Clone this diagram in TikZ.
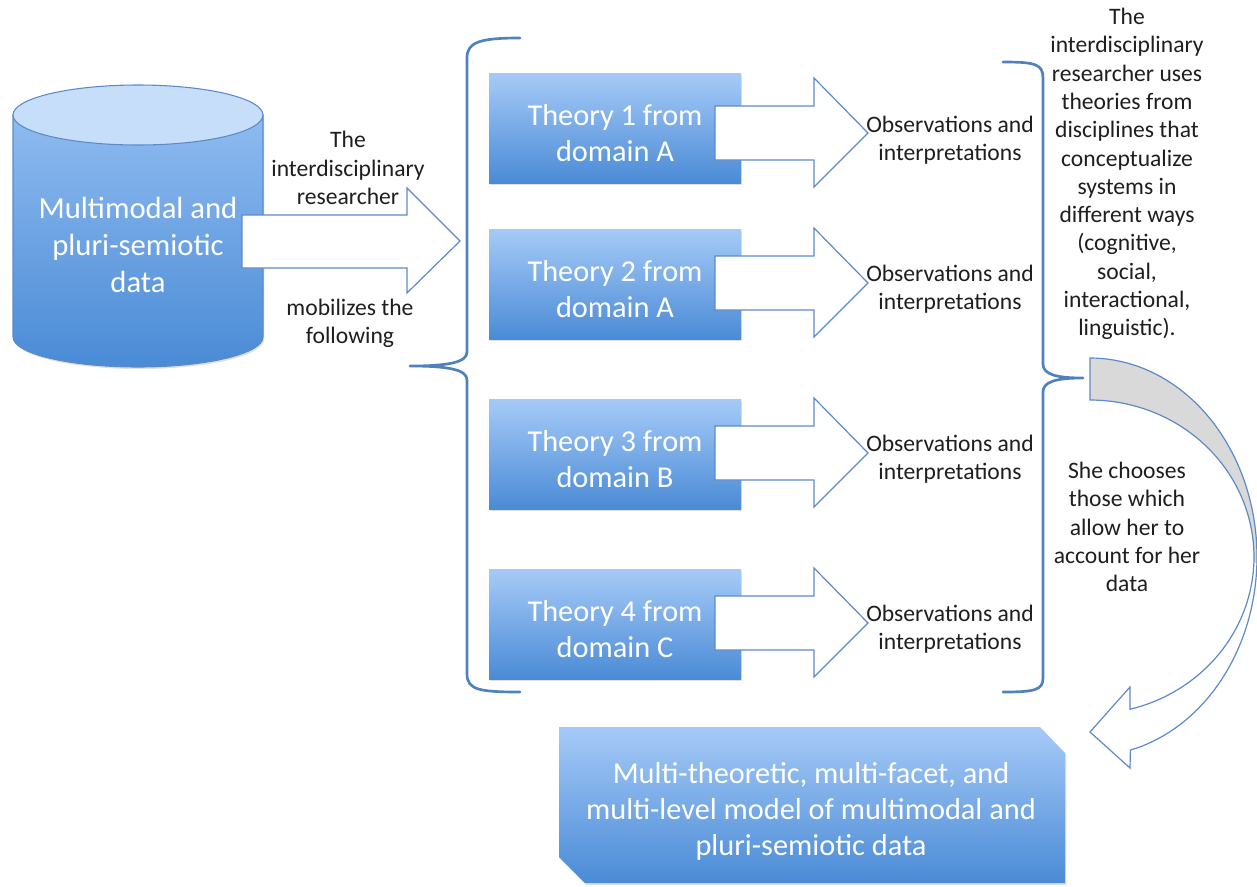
\documentclass[tikz,border=0pt]{standalone}
\usepackage{fontspec}
\setmainfont{Carlito}
\usetikzlibrary{shadows}
\definecolor{boxtop}{RGB}{166,202,247}
\definecolor{boxbot}{RGB}{74,139,214}
\definecolor{cyltop}{RGB}{198,222,249}
\definecolor{cylbody}{RGB}{143,187,240}
\definecolor{edge}{RGB}{92,138,200}
\definecolor{bracec}{RGB}{79,129,189}
\definecolor{txt}{RGB}{30,30,30}
\definecolor{backgray}{RGB}{217,217,217}
\begin{document}
\begin{tikzpicture}[x=0.75pt,y=-0.75pt,
  shadowed/.style={drop shadow={shadow xshift=1pt,shadow yshift=-1.5pt,opacity=0.25}},
  theory/.style={minimum width=189pt,minimum height=82.5pt,inner sep=0pt,
    top color=boxtop,bottom color=boxbot,shadowed},
  whitetext/.style={text=white,align=center,inner sep=0pt},
  boxfont/.style={font=\fontsize{22.75}{27}\selectfont},
  blockarrow/.style={draw=edge,fill=white,line width=0.9pt,line join=miter},
  lbl/.style={text=txt,align=center,font=\fontsize{17.7}{21.2}\selectfont,inner sep=0pt},
  bracestyle/.style={draw=bracec,line width=2pt,line cap=round,line join=round}]
\useasboundingbox (0,0) rectangle (1257,886);

% cylinder
\path[draw=edge,line width=0.8pt,top color=cylbody,bottom color=boxbot,shadowed]
  (13,115) -- (13,337) .. controls (13,353.6) and (69,367) .. (138,367)
  .. controls (207,367) and (263,353.6) .. (263,337) -- (263,115) -- cycle;
\draw[edge,line width=0.8pt,fill=cyltop] (138,115) ellipse [x radius=125,y radius=30];
\node[whitetext,font=\fontsize{23}{27.75}\selectfont] (data) at (138,245)
  {Multimodal and\\pluri-semiotic\\data};

% main arrow
\draw[blockarrow] (242,215) -- (407,215) -- (407,188) -- (460,241) -- (407,293)
  -- (407,268) -- (242,268) -- cycle;
\node[lbl] (lt1) at (348,168) {The\\interdisciplinary\\researcher};
\node[lbl] (lt2) at (350,323) {mobilizes the\\following};

% left brace
\draw[bracestyle] (520,38) .. controls (480,38) and (467,42) .. (467,58) -- (467,352)
  .. controls (467,362) and (450,366) .. (410,366)
  .. controls (450,366) and (467,370) .. (467,380) -- (467,674)
  .. controls (467,690) and (480,692) .. (520,692);

% theory boxes
\foreach \y/\n/\d in {128/1/A,284/2/A,454/3/B,624/4/C}{
  \node[theory] (th\n) at (615,\y) {};
  \node[whitetext,boxfont] (th\n text) at ([yshift=-3.75pt]th\n.center) {Theory \n\ from\\domain \d};
}

% row arrows and texts
\foreach \c/\ty/\n in {133/140/1,283/289/2,453/459/3,623/629/4}{
  \draw[blockarrow] (715,\c-27) -- (814,\c-27) -- (814,\c-55) -- (868,\c)
    -- (814,\c+54) -- (814,\c+27) -- (715,\c+27) -- cycle;
  \node[lbl] (obs\n) at (950,\ty) {Observations and\\interpretations};
}

% right brace
\draw[bracestyle] (1003,62) .. controls (1035,62) and (1043,64) .. (1043,78) -- (1043,364)
  .. controls (1043,374) and (1055,378) .. (1083,378)
  .. controls (1055,378) and (1043,382) .. (1043,392) -- (1043,678)
  .. controls (1043,690) and (1035,692) .. (1003,692);

\node[lbl] (rt) at (1127,174) {The\\interdisciplinary\\researcher uses\\theories from\\disciplines that\\conceptualize\\systems in\\different ways\\(cognitive,\\social,\\interactional,\\linguistic).};

% curved arrow
\fill[backgray] plot[domain=-90:2,samples=40,variable=\t] ({1090+167*cos(\t)},{557+199*sin(\t)})
  -- plot[domain=2:-90,samples=40,variable=\t] ({1090+164*cos(\t)},{557+157*sin(\t)}) -- cycle;
\fill[white] plot[domain=2:76,samples=40,variable=\t] ({1090+167*cos(\t)},{557+199*sin(\t)})
  -- (1130,768) -- (1090,732) -- (1130,687)
  -- plot[domain=75.9:2,samples=40,variable=\t] ({1090+164*cos(\t)},{557+157*sin(\t)}) -- cycle;
\draw[edge,line width=0.9pt,line join=miter]
  plot[domain=-90:76,samples=80,variable=\t] ({1090+167*cos(\t)},{557+199*sin(\t)})
  -- (1130,768) -- (1090,732) -- (1130,687)
  -- plot[domain=75.9:-90,samples=80,variable=\t] ({1090+164*cos(\t)},{557+157*sin(\t)}) -- cycle;

\node[lbl] (she) at (1127,527) {She chooses\\those which\\allow her to\\account for her\\data};

% model box
\path[top color=boxtop,bottom color=boxbot,shadowed]
  (559,727) -- (1040,727) -- (1065,753) -- (1065,883) -- (585,883) -- (559,857) -- cycle;
\node[whitetext,boxfont] (model) at (811,811)
  {Multi-theoretic, multi-facet, and\\multi-level model of multimodal and\\pluri-semiotic data};
\end{tikzpicture}
\end{document}
